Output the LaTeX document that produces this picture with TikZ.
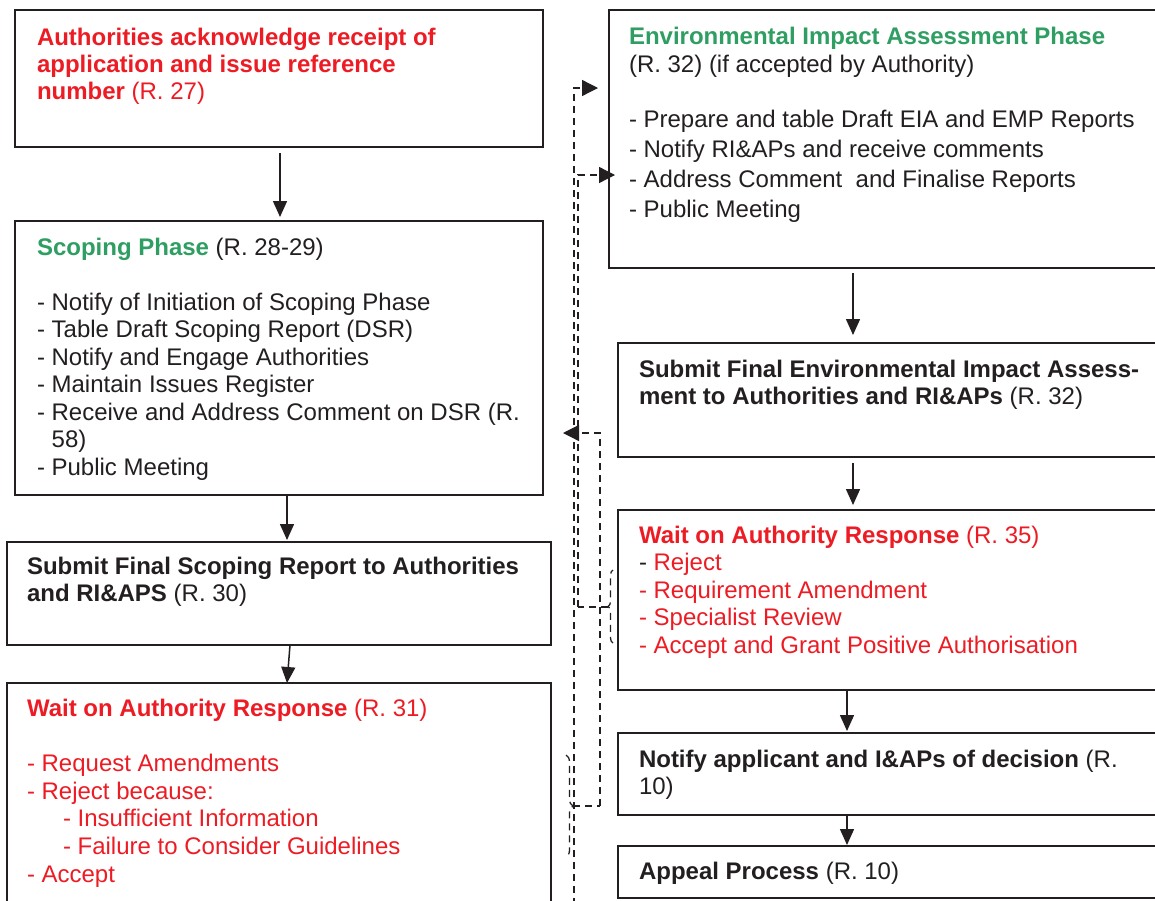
\documentclass[tikz,border=0pt]{standalone}
\usepackage{fontspec}
\setmainfont{Liberation Sans}
\usetikzlibrary{arrows.meta,calc,decorations.pathreplacing}
\definecolor{myred}{RGB}{237,28,36}
\definecolor{mygreen}{RGB}{46,158,98}
\definecolor{ink}{RGB}{35,31,32}
\newcommand{\fl}{\rule{0pt}{10pt}}
\tikzset{
  box/.style={draw=ink, line width=1pt, anchor=north west, inner sep=0pt, outer sep=0pt},
  txt/.style={anchor=north west, inner sep=0pt, outer sep=0pt, align=left, text=ink},
  arr/.style={draw=ink, line width=0.75pt, -{Triangle[length=8pt,width=7pt]}},
  dsh/.style={draw=ink, line width=0.65pt, dash pattern=on 3.5pt off 2.5pt},
  darr/.style={dsh, -{Triangle[length=8pt,width=8pt]}},
}
\begin{document}
\begin{tikzpicture}[x=0.5pt,y=-0.5pt]
\useasboundingbox (0,0) rectangle (1155,900);
\clip (0,0) rectangle (1155,900);
\fill[white] (0,0) rectangle (1155,900);
% boxes
\node[box, minimum width=264pt, minimum height=68.5pt] (b1) at (15,10) {};
\node[box, minimum width=264pt, minimum height=137pt] (scop) at (15,221) {};
\node[box, minimum width=272pt, minimum height=51.5pt] (subs) at (7,542) {};
\node[box, minimum width=272pt, minimum height=118pt] (wait1) at (7,683) {};
\node[box, minimum width=280pt, minimum height=129pt] (eia) at (609,10) {};
\node[box, minimum width=276pt, minimum height=57pt] (sube) at (618,343) {};
\node[box, minimum width=276pt, minimum height=90pt] (wait2) at (618,510) {};
\node[box, minimum width=276pt, minimum height=41pt] (notify) at (618,733) {};
\node[box, minimum width=276pt, minimum height=26pt] (appeal) at (618,846) {};
% texts
\node[txt, text=myred, font=\fontsize{12}{13.5}\selectfont] (t1) at (37,25)
 {\fl\textbf{Authorities acknowledge receipt of}\\ \textbf{application and issue reference}\\ \textbf{number} (R. 27)};
\node[txt, font=\fontsize{12}{13.75}\selectfont] (t2) at (37,235)
 {\fl{\color{mygreen}\textbf{Scoping Phase}} (R. 28-29)\\[13.75pt]
  - Notify of Initiation of Scoping Phase\\
  - Table Draft Scoping Report (DSR)\\
  - Notify and Engage Authorities\\
  - Maintain Issues Register\\
  - Receive and Address Comment on DSR (R.\\
  \hphantom{-\ }58)\\
  - Public Meeting};
\node[txt, font=\fontsize{12}{13.5}\selectfont] (t3) at (27,554)
 {\fl\textbf{Submit Final Scoping Report to Authorities}\\ \textbf{and RI\&APS} (R. 30)};
\node[txt, text=myred, font=\fontsize{12}{13.8}\selectfont] (t4) at (27,696)
 {\fl\textbf{Wait on Authority Response} (R. 31)\\[14pt]
  - Request Amendments\\
  - Reject because:\\
  \hspace*{18pt}- Insufficient Information\\
  \hspace*{18pt}- Failure to Consider Guidelines\\
  - Accept};
\node[txt, font=\fontsize{12}{15}\selectfont] (t5) at (629,24)
 {\fl{\color{mygreen}\textbf{Environmental Impact Assessment Phase}}\\[-1pt]
  (R. 32) (if accepted by Authority)\\[12.5pt]
  - Prepare and table Draft EIA and EMP Reports\\
  - Notify RI\&APs and receive comments\\
  - Address Comment\ \ and Finalise Reports\\
  - Public Meeting};
\node[txt, font=\fontsize{12}{13.5}\selectfont] (t6) at (639,357)
 {\fl\textbf{Submit Final Environmental Impact Assess-}\\ \textbf{ment to Authorities and RI\&APs} (R. 32)};
\node[txt, text=myred, font=\fontsize{12}{13.75}\selectfont] (t7) at (639,523)
 {\fl\textbf{Wait on Authority Response} (R. 35)\\
  {\color{ink}-} Reject\\
  - Requirement Amendment\\
  - Specialist Review\\
  - Accept and Grant Positive Authorisation};
\node[txt, font=\fontsize{12}{13.5}\selectfont] (t8) at (639,747)
 {\fl\textbf{Notify applicant and I\&APs of decision} (R.\\ 10)};
\node[txt, font=\fontsize{12}{13.5}\selectfont] (t9) at (639,859)
 {\fl\textbf{Appeal Process} (R. 10)};
% solid arrows
\draw[arr, shorten <=3pt, shorten >=2pt] ([xshift=0.5pt]b1.south) -- ([xshift=0.5pt]scop.north);
\draw[arr, shorten >=1pt] ([xshift=4pt]scop.south) -- ([xshift=4pt]subs.north);
\draw[arr] ([xshift=5.5pt]subs.south) -- ([xshift=4pt]wait1.north);
\draw[arr, shorten <=2.5pt, shorten >=4pt] ([xshift=122pt]eia.south west) -- ([xshift=117.5pt]sube.north west);
\draw[arr, shorten <=3pt, shorten >=2.5pt] ([xshift=117.5pt]sube.south west) -- ([xshift=117.5pt]wait2.north west);
\draw[arr, shorten >=1pt] ([xshift=114.5pt]wait2.south west) -- ([xshift=114.5pt]notify.north west);
\draw[arr, shorten >=0.5pt] ([xshift=114.5pt]notify.south west) -- ([xshift=114.5pt]appeal.north west);
% braces
\draw[dsh, decorate, decoration={brace, amplitude=3.5pt}] (566,755) -- (566,857);
\draw[dsh, decorate, decoration={brace, amplitude=2.5pt}] (613,643) -- (613,570);
\coordinate (b31tip) at (573,806);
\coordinate (b35tip) at (608,607);
% dashed connectors
\coordinate (d1s) at (574,905);
\coordinate (d1e) at ($(eia.north west)+(-11,78)$);
\draw[darr] (d1s) |- (d1e);
\coordinate (d2c) at (578,607);
\coordinate (d2e) at ($(eia.north west)+(6,165)$);
\draw[dsh] (b35tip) -- (d2c);
\draw[darr] (d2c) |- (d2e);
\coordinate (d3c) at (600,806);
\coordinate (d3e) at ($(scop.north east)+(20,212)$);
\draw[dsh] (b31tip) -- (d3c);
\draw[darr] (d3c) |- (d3e);
\end{tikzpicture}
\end{document}
